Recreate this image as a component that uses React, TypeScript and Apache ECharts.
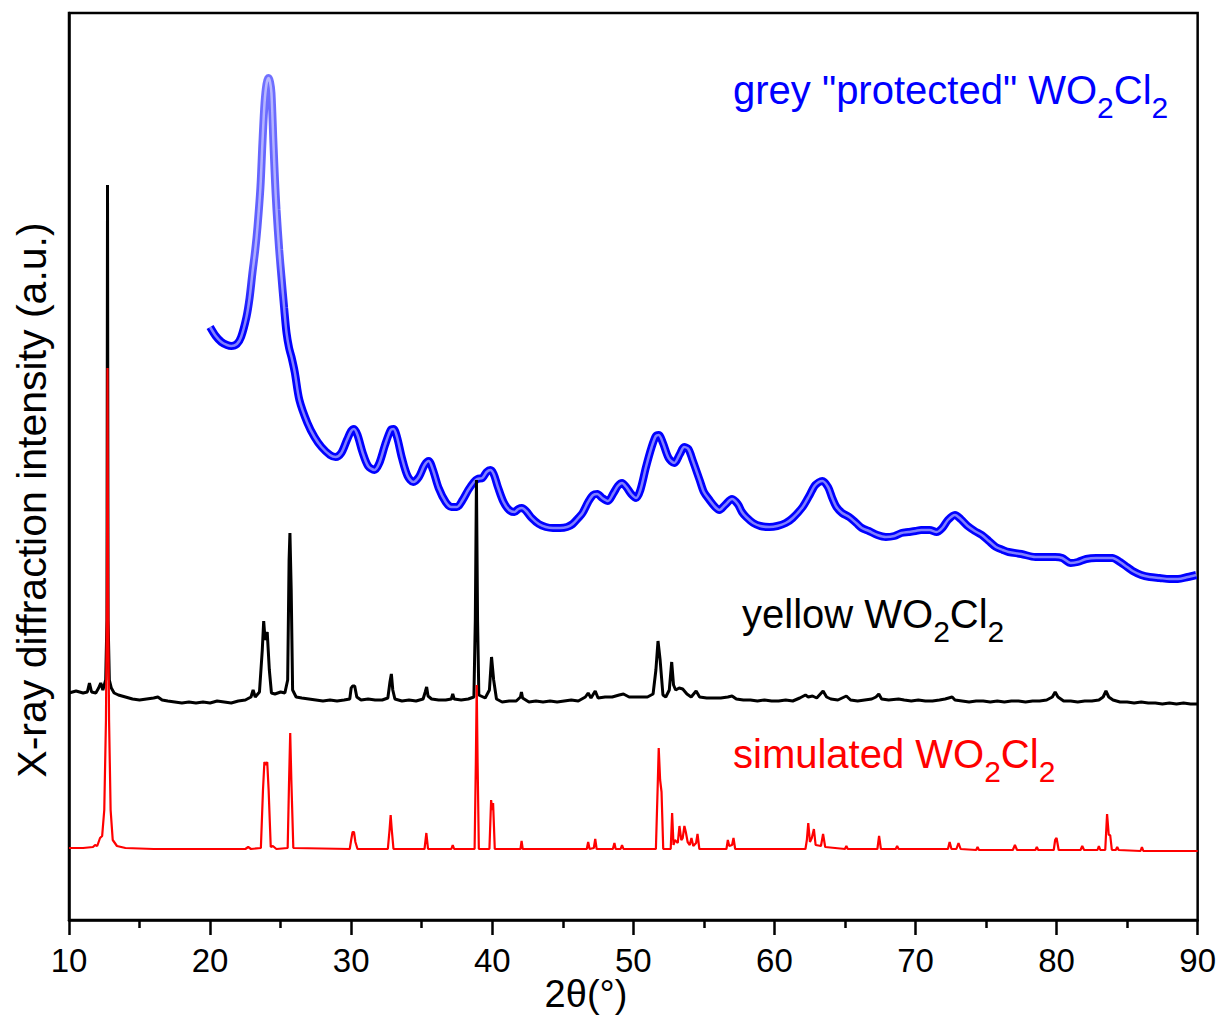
import React, { useEffect, useRef } from "react";
import * as echarts from "echarts";

const FONT = "'Liberation Sans', Arial, Helvetica, sans-serif";

// x-axis ticks (2θ, degrees)
const xTicks = [10, 20, 30, 40, 50, 60, 70, 80, 90];

// Series labels
const labelPrefixes = ['grey "protected" ', "yellow ", "simulated "];

// grey "protected" WO2Cl2 — [2θ, intensity (a.u.)]
const greyProtected: number[][] = [
  [20.0, 593], [20.4, 584], [20.8, 578], [21.2, 575], [21.5, 574], [21.9, 576], [22.2, 583],
  [22.58, 603], [22.8, 622], [23.0, 647], [23.2, 670], [23.36, 693], [23.57, 733], [23.71, 777],
  [23.86, 817], [24.0, 836], [24.14, 842], [24.25, 838], [24.35, 827], [24.49, 777], [24.6, 740],
  [24.71, 710], [24.9, 670], [25.06, 643], [25.25, 612], [25.42, 587], [25.6, 572], [25.77, 563],
  [26.0, 548], [26.33, 520], [26.9, 497], [27.4, 483], [27.9, 473], [28.5, 465], [28.9, 463],
  [29.3, 467], [29.7, 480], [30.0, 489], [30.2, 491], [30.45, 485], [30.8, 468], [31.2, 454],
  [31.65, 450], [32.0, 457], [32.4, 475], [32.8, 490], [33.0, 491], [33.25, 483], [33.6, 462],
  [34.0, 444], [34.4, 438], [34.8, 443], [35.2, 455], [35.5, 459], [35.8, 450], [36.2, 432],
  [36.7, 418], [37.1, 413], [37.5, 413], [37.9, 420], [38.3, 430], [38.7, 438], [38.95, 441],
  [39.3, 442], [39.6, 448], [39.87, 450], [40.1, 446], [40.4, 433], [40.8, 418], [41.2, 410],
  [41.57, 408], [41.85, 411], [42.1, 412], [42.4, 409], [42.8, 402], [43.3, 396], [43.8, 393],
  [44.3, 392], [44.8, 392], [45.3, 393], [45.7, 396], [46.1, 402], [46.4, 407], [46.8, 418],
  [47.15, 425], [47.45, 426], [47.8, 422], [48.2, 419], [48.6, 427], [48.9, 434], [49.2, 437],
  [49.5, 433], [49.85, 426], [50.2, 422], [50.5, 430], [50.9, 453], [51.3, 473], [51.6, 484],
  [51.8, 485], [52.1, 477], [52.5, 462], [52.9, 457], [53.3, 466], [53.6, 473], [53.9, 471],
  [54.2, 460], [54.7, 440], [55.0, 428], [55.4, 420], [55.8, 413], [56.1, 410], [56.5, 415],
  [57.0, 421], [57.4, 416], [57.7, 408], [58.0, 403], [58.5, 397], [59.0, 394], [59.65, 393],
  [60.2, 394], [60.8, 397], [61.3, 402], [62.0, 413], [62.5, 425], [62.9, 435], [63.4, 439],
  [63.8, 433], [64.1, 422], [64.4, 413], [64.8, 407], [65.3, 403], [65.8, 397], [66.2, 392],
  [66.7, 389], [67.3, 385], [67.9, 383], [68.5, 384], [69.0, 387], [69.5, 388], [70.0, 389],
  [70.4, 390], [71.0, 390], [71.5, 388], [71.9, 392], [72.3, 400], [72.8, 405], [73.2, 401],
  [73.7, 394], [74.2, 389], [74.7, 385], [75.2, 379], [75.7, 373], [76.2, 370], [76.6, 368],
  [77.5, 366], [78.5, 363], [79.2, 363], [79.9, 363], [80.4, 362], [81.0, 357], [81.5, 358],
  [82.1, 361], [82.8, 362], [83.5, 362], [83.95, 362], [84.5, 358], [85.0, 353], [85.4, 349],
  [86.0, 345], [86.6, 343], [87.3, 342], [88.0, 341], [88.6, 341], [89.3, 343], [89.9, 345],
];

// yellow WO2Cl2 (measured) — [2θ, intensity (a.u.)]
const yellowMeasured: number[][] = [
  [10.0, 227], [10.5, 229], [11.0, 227], [11.3, 228], [11.45, 237], [11.6, 228], [11.9, 227],
  [12.1, 232], [12.25, 237], [12.4, 230], [12.6, 240], [12.69, 300], [12.73, 735], [12.77, 300],
  [12.86, 240], [13.0, 232], [13.2, 227], [13.5, 225], [14.0, 223], [14.5, 221], [15.0, 220],
  [15.5, 221], [16.0, 222], [16.3, 223], [16.6, 220], [17.0, 219], [17.5, 218], [18.0, 217],
  [18.5, 218], [19.0, 217], [19.5, 218], [20.0, 217], [20.5, 219], [21.0, 218], [21.5, 217],
  [22.0, 219], [22.5, 220], [22.9, 223], [23.05, 230], [23.2, 223], [23.5, 228], [23.7, 270],
  [23.8, 299], [23.9, 280], [24.05, 288], [24.2, 250], [24.35, 227], [24.6, 226], [25.0, 228],
  [25.3, 227], [25.5, 240], [25.6, 360], [25.66, 387], [25.75, 330], [25.85, 230], [26.1, 223],
  [26.5, 222], [27.0, 221], [27.5, 220], [28.0, 219], [28.5, 220], [29.0, 219], [29.5, 220],
  [29.9, 221], [30.0, 232], [30.1, 234], [30.25, 234], [30.4, 223], [30.7, 220], [31.2, 221],
  [31.7, 220], [32.2, 220], [32.6, 222], [32.75, 238], [32.85, 246], [32.95, 230], [33.1, 221],
  [33.6, 219], [34.1, 220], [34.6, 219], [35.1, 221], [35.25, 228], [35.35, 233], [35.45, 224],
  [35.7, 221], [36.2, 220], [36.7, 220], [37.1, 221], [37.2, 226], [37.3, 221], [37.8, 220],
  [38.3, 221], [38.7, 223], [38.8, 300], [38.88, 440], [38.96, 300], [39.05, 225], [39.5, 222],
  [39.8, 230], [39.95, 263], [40.1, 240], [40.3, 221], [40.7, 218], [41.2, 219], [41.7, 219],
  [42.0, 223], [42.07, 228], [42.15, 222], [42.6, 218], [43.1, 219], [43.6, 218], [44.1, 219],
  [44.6, 218], [45.1, 219], [45.6, 220], [46.1, 219], [46.6, 223], [46.8, 227], [47.0, 222],
  [47.3, 229], [47.5, 222], [48.0, 223], [48.5, 223], [49.0, 225], [49.3, 226], [49.7, 223],
  [50.1, 223], [50.6, 223], [51.0, 223], [51.4, 226], [51.6, 250], [51.75, 279], [51.9, 260],
  [52.1, 225], [52.3, 223], [52.55, 230], [52.72, 258], [52.85, 235], [53.0, 230], [53.25, 232],
  [53.5, 231], [53.8, 226], [54.1, 223], [54.45, 229], [54.7, 223], [55.2, 222], [55.7, 222],
  [56.2, 222], [56.7, 223], [57.0, 224], [57.3, 221], [57.8, 220], [58.3, 220], [58.8, 219],
  [59.3, 220], [59.8, 219], [60.3, 219], [60.8, 220], [61.3, 219], [61.8, 222], [62.2, 225],
  [62.4, 223], [62.7, 224], [63.0, 222], [63.45, 229], [63.7, 223], [64.0, 221], [64.5, 220],
  [65.1, 224], [65.4, 220], [65.9, 219], [66.4, 220], [66.9, 221], [67.2, 223], [67.4, 226],
  [67.6, 221], [68.1, 220], [68.8, 221], [69.2, 220], [69.7, 219], [70.2, 220], [70.7, 219],
  [71.2, 219], [71.7, 220], [72.1, 221], [72.35, 222], [72.6, 223], [72.8, 220], [73.3, 219],
  [73.8, 218], [74.3, 219], [74.8, 219], [75.3, 218], [75.8, 219], [76.3, 218], [76.8, 219],
  [77.3, 219], [77.8, 218], [78.3, 219], [78.8, 219], [79.3, 220], [79.7, 223], [79.9, 228],
  [80.1, 223], [80.5, 219], [81.0, 219], [81.5, 218], [82.0, 219], [82.5, 219], [83.0, 220],
  [83.3, 223], [83.5, 229], [83.7, 223], [84.0, 220], [84.5, 218], [85.0, 218], [85.5, 217],
  [86.0, 218], [86.5, 217], [87.0, 217], [87.5, 216], [88.0, 217], [88.5, 216], [89.0, 217],
  [89.5, 216], [90.0, 216],
];

// simulated WO2Cl2 — [2θ, intensity (a.u.)]
const simulated: number[][] = [
  [10.0, 72], [11.0, 72], [11.7, 73], [11.85, 75], [12.0, 74], [12.2, 82], [12.35, 84],
  [12.5, 110], [12.62, 200], [12.69, 330], [12.73, 552], [12.77, 330], [12.84, 200], [12.95, 110],
  [13.1, 80], [13.4, 74], [14.0, 72], [16.0, 71], [20.0, 71], [22.5, 71], [22.7, 73], [22.9, 71],
  [23.6, 72], [23.75, 130], [23.85, 158], [23.95, 155], [24.05, 158], [24.15, 130], [24.3, 73],
  [24.45, 74], [24.7, 71], [25.5, 72], [25.6, 140], [25.68, 187], [25.76, 140], [25.9, 72],
  [29.9, 71], [30.0, 80], [30.1, 88], [30.2, 88], [30.3, 78], [30.45, 71], [32.6, 71],
  [32.72, 90], [32.8, 105], [32.88, 90], [33.0, 71], [35.2, 71], [35.33, 87], [35.45, 71],
  [37.1, 71], [37.2, 75], [37.3, 71], [38.75, 71], [38.84, 160], [38.9, 235], [38.96, 160],
  [39.05, 71], [39.8, 71], [39.92, 120], [40.0, 110], [40.06, 117], [40.18, 71], [42.0, 71],
  [42.08, 79], [42.16, 71], [46.7, 71], [46.8, 78], [46.9, 71], [47.2, 72], [47.3, 81],
  [47.4, 71], [48.55, 71], [48.66, 77], [48.75, 71], [49.1, 71], [49.2, 75], [49.3, 71],
  [51.6, 71], [51.72, 130], [51.8, 172], [51.9, 140], [52.0, 128], [52.12, 71], [52.65, 71],
  [52.75, 107], [52.85, 75], [52.95, 80], [53.15, 77], [53.27, 94], [53.4, 80], [53.5, 82],
  [53.62, 94], [53.72, 88], [53.85, 78], [54.0, 75], [54.12, 82], [54.25, 74], [54.45, 77],
  [54.55, 86], [54.68, 71], [56.6, 71], [56.7, 80], [56.8, 74], [57.0, 75], [57.1, 82],
  [57.22, 71], [62.2, 71], [62.3, 80], [62.4, 97], [62.52, 78], [62.65, 82], [62.8, 91],
  [62.92, 75], [63.3, 74], [63.45, 86], [63.6, 73], [65.0, 71], [65.1, 74], [65.2, 71],
  [67.3, 71], [67.42, 84], [67.55, 71], [68.6, 71], [68.7, 74], [68.8, 71], [72.3, 71],
  [72.42, 78], [72.55, 71], [72.9, 71], [73.05, 77], [73.2, 71], [74.3, 70], [74.4, 73],
  [74.5, 70], [76.9, 70], [77.05, 75], [77.2, 70], [78.5, 70], [78.6, 73], [78.7, 70],
  [79.8, 70], [79.9, 80], [80.0, 82], [80.15, 70], [81.7, 70], [81.82, 74], [81.95, 70],
  [82.9, 70], [83.0, 74], [83.1, 70], [83.45, 70], [83.58, 106], [83.7, 85], [83.8, 85],
  [83.92, 70], [84.2, 70], [84.3, 73], [84.4, 70], [85.95, 69], [86.05, 73], [86.15, 69],
  [90.0, 69],
];

function formulaTitle(prefix: string, color: string, left: number, top: number) {
  return {
    text: `{m|${prefix}WO}{s|2}{m|Cl}{s|2}`,
    left,
    top,
    padding: 0,
    textStyle: {
      fontSize: 40,
      fontFamily: FONT,
      fontWeight: "normal",
      color,
      rich: {
        m: { fontSize: 40, fontFamily: FONT, color, lineHeight: 40, verticalAlign: "top" },
        s: { fontSize: 30, fontFamily: FONT, color, lineHeight: 30, padding: [22, 0, 0, 0], verticalAlign: "top" },
      },
    },
  };
}

export default function App() {
  const ref = useRef<HTMLDivElement>(null);
  useEffect(() => {
    if (!ref.current) return;
    const chart = echarts.init(ref.current, undefined, { renderer: "svg" });
    const blueTube = new echarts.graphic.LinearGradient(0, 0, 0, 1, [
      { offset: 0, color: "#7070ff" },
      { offset: 0.36, color: "#5a5aff" },
      { offset: 0.5, color: "#0000ff" },
      { offset: 1, color: "#0000ff" },
    ]);
    chart.setOption({
      animation: false,
      backgroundColor: "#ffffff",
      title: [
        formulaTitle(labelPrefixes[0], "#0000ff", 733, 70),
        formulaTitle(labelPrefixes[1], "#000000", 742, 594),
        formulaTitle(labelPrefixes[2], "#ff0000", 733, 734),
      ],
      grid: {
        left: 69,
        right: 20,
        top: 13,
        bottom: 96,
        show: true,
        borderColor: "#000",
        borderWidth: 2.5,
        backgroundColor: "transparent",
      },
      xAxis: {
        type: "value",
        min: xTicks[0],
        max: xTicks[xTicks.length - 1],
        interval: 10,
        axisLine: { show: true, lineStyle: { color: "#000", width: 2.5 } },
        axisTick: { show: true, inside: false, length: 15, lineStyle: { color: "#000", width: 2.5 } },
        minorTick: { show: true, splitNumber: 2, length: 8, lineStyle: { color: "#000", width: 2.5 } },
        axisLabel: { show: true, fontSize: 33, fontFamily: FONT, color: "#000", margin: 24 },
        splitLine: { show: false },
      },
      yAxis: {
        type: "value",
        min: 0,
        max: 907,
        axisLine: { show: true, lineStyle: { color: "#000", width: 2.5 } },
        axisTick: { show: false },
        axisLabel: { show: false },
        splitLine: { show: false },
      },
      graphic: [
        {
          type: "text",
          x: 586,
          y: 994,
          style: {
            text: "2θ(°)",
            fontSize: 38,
            lineHeight: 38,
            fontFamily: FONT,
            fill: "#000",
            align: "center",
            verticalAlign: "middle",
          },
        },
        {
          type: "text",
          x: 32,
          y: 500,
          rotation: Math.PI / 2,
          style: {
            text: "X-ray diffraction intensity (a.u.)",
            fontSize: 41,
            fontFamily: FONT,
            fill: "#000",
            align: "center",
            verticalAlign: "middle",
          },
        },
      ],
      series: [
        {
          type: "line",
          data: greyProtected,
          showSymbol: false,
          smooth: 0.3,
          lineStyle: { color: blueTube, width: 8 },
          silent: true,
          z: 2,
        },
        {
          type: "line",
          data: greyProtected,
          showSymbol: false,
          smooth: 0.3,
          lineStyle: { color: "#ffffff", width: 2.5, opacity: 0.5 },
          silent: true,
          z: 3,
        },
        {
          type: "line",
          data: yellowMeasured,
          showSymbol: false,
          lineStyle: { color: "#000000", width: 3 },
          silent: true,
          z: 4,
        },
        {
          type: "line",
          data: simulated,
          showSymbol: false,
          lineStyle: { color: "#ff0000", width: 2.2 },
          silent: true,
          z: 5,
        },
      ],
    });
    return () => chart.dispose();
  }, []);
  return (
    <div
      ref={ref}
      style={{ position: "absolute", left: 0, top: 0, width: 1219, height: 1016, background: "#fff" }}
    />
  );
}
